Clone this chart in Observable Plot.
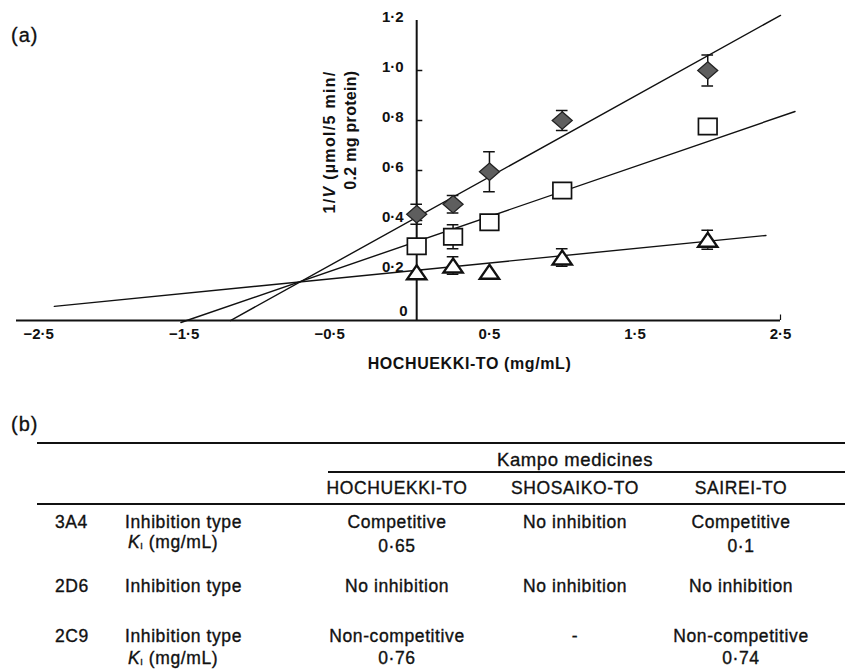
<!DOCTYPE html>
<html><head><meta charset="utf-8">
<script src="https://cdn.jsdelivr.net/npm/d3@7"></script>
<script src="https://cdn.jsdelivr.net/npm/@observablehq/plot@0.6"></script>
<style>
body{margin:0;background:#fff;}
#wrap{position:relative;width:845px;height:671px;overflow:hidden;font-family:"Liberation Sans",Arial,Helvetica,sans-serif;color:#111;}
#wrap svg{position:absolute;left:0;top:0;}
.t{position:absolute;white-space:nowrap;line-height:1;font-size:17.5px;letter-spacing:0.6px;-webkit-text-stroke:0.35px #111;}
.c{transform:translate(-50%,-50%);}
.l{transform:translate(0,-50%);}
.rule{position:absolute;background:#111;}
.panel{position:absolute;font-size:20px;letter-spacing:1px;line-height:1;transform:translate(0,-50%);-webkit-text-stroke:0.3px #111;}
</style></head><body><div id="wrap"></div>
<script>
// ---------- data (panel a) ----------
const concentrations = [0, 0.25, 0.5, 1, 2];
const seriesNames = ["diamond", "square", "triangle"];
const diamondValues = [0.425, 0.465, 0.595, 0.80, 1.00];
const diamondErrors = [0.04, 0.035, 0.08, 0.04, 0.062];
const squareValues = [0.297, 0.335, 0.393, 0.52, 0.776];
const squareErrors = [0, 0.048, 0, 0, 0];
const triangleValues = [0.193, 0.22, 0.195, 0.252, 0.323];
const triangleErrors = [0, 0.035, 0, 0.035, 0.038];
const lineSlopes = [0.323, 0.200, 0.058];
const lineIntercepts = [0.413, 0.316, 0.201];
const lineStarts = [-1.28, -1.62, -2.49];
const lineEnds = [2.5, 2.6, 2.4];
const xTicks = [-2.5, -1.5, -0.5, 0.5, 1.5, 2.5];
const yTicks = [0, 0.2, 0.4, 0.6, 0.8, 1.0, 1.2];
const xTitle = "HOCHUEKKI-TO (mg/mL)";
const yTitle = "1/V (µmol/5 min/\n0.2 mg protein)";

// ---------- data (panel b) ----------
const groupTitle = "Kampo medicines";
const medicines = ["HOCHUEKKI-TO", "SHOSAIKO-TO", "SAIREI-TO"];
const enzymes = ["3A4", "2D6", "2C9"];
const hasKi = [true, false, true];
const inhibitionTypes = [
  ["Competitive", "No inhibition", "Competitive"],
  ["No inhibition", "No inhibition", "No inhibition"],
  ["Non-competitive", "-", "Non-competitive"]
];
const kiValues = [
  ["0·65", "", "0·1"],
  ["", "", ""],
  ["0·76", "", "0·74"]
];

// ---------- build tables ----------
const valueSets = [diamondValues, squareValues, triangleValues];
const errorSets = [diamondErrors, squareErrors, triangleErrors];
const points = seriesNames.flatMap((s, i) =>
  concentrations.map((c, j) => ({series: s, x: c, y: valueSets[i][j], err: errorSets[i][j]})));
const errPoints = points.filter(d => d.err > 0);
const linePts = seriesNames.flatMap((s, i) => [lineStarts[i], lineEnds[i]].map(x => ({series: s, x, y: lineIntercepts[i] + lineSlopes[i] * x})));

const fmt = d => d === 0 ? "0" : (d < 0 ? "\u2212" : "") + Math.abs(d).toFixed(1).replace(".", "·");

const mk = (fw, fh, shape) => ({draw(ctx, size) {
  const r = Math.sqrt(size / Math.PI), w = r * fw, h = r * fh;
  if (shape === "d") { ctx.moveTo(0, -h); ctx.lineTo(w, 0); ctx.lineTo(0, h); ctx.lineTo(-w, 0); ctx.closePath(); }
  else if (shape === "s") { ctx.moveTo(-w, -h); ctx.lineTo(w, -h); ctx.lineTo(w, h); ctx.lineTo(-w, h); ctx.closePath(); }
  else { ctx.moveTo(0, -h); ctx.lineTo(w, h); ctx.lineTo(-w, h); ctx.closePath(); }
}});
const diamondSym = mk(1.0, 0.87, "d");
const squareSym = mk(0.93, 0.82, "s");
const triangleSym = mk(0.97, 0.7, "t");
const capHalf = 0.04;
const tickFont = {fontWeight: "bold", fontSize: 15};

const chart = Plot.plot({
  width: 845, height: 390,
  marginLeft: 16, marginRight: 65, marginTop: 20, marginBottom: 70,
  x: {domain: [-2.75, 2.5], axis: null},
  y: {domain: [0, 1.2], axis: null},
  style: {fontFamily: "Liberation Sans, Arial, sans-serif", fontSize: "14px", color: "#111", background: "transparent", overflow: "visible"},
  marks: [
    Plot.ruleY([0], {stroke: "#111", strokeWidth: 2}),
    Plot.ruleX([0], {y1: 0, y2: yTicks[yTicks.length - 1], stroke: "#111", strokeWidth: 2}),
    Plot.ruleY(yTicks.filter(d => d > 0 && d < 1.2), {y: d => d, x1: 0, x2: 0.042, stroke: "#111", strokeWidth: 1.5}),
    Plot.ruleX(xTicks.slice(-1), {x: d => d, y1: 0, y2: 0.022, stroke: "#111", strokeWidth: 1.2}),
    Plot.text(yTicks.filter(d => d > 0), {x: 0, y: d => d, text: fmt, textAnchor: "end", dx: -13, dy: -3, ...tickFont}),
    Plot.text(yTicks.filter(d => d === 0), {x: 0, y: d => d, text: fmt, textAnchor: "end", dx: -9, dy: -9, ...tickFont}),
    Plot.text(xTicks.filter(d => d < 0), {x: d => d, y: 0, text: fmt, textAnchor: "end", dx: 1, dy: 8, lineAnchor: "top", ...tickFont}),
    Plot.text(xTicks.filter(d => d > 0), {x: d => d, y: 0, text: fmt, textAnchor: "middle", dy: 8, lineAnchor: "top", ...tickFont}),
    Plot.text([xTitle], {frameAnchor: "bottom", text: d => d, dx: 71, dy: 48, fontSize: 16, fontWeight: "bold"}),
    Plot.text([yTitle], {frameAnchor: "top-left", text: d => d, dx: 304, dy: 50, rotate: -90, textAnchor: "end", fontSize: 16, fontWeight: "bold", lineHeight: 1.3}),
    Plot.line(linePts, {x: "x", y: "y", z: "series", stroke: "#111", strokeWidth: 1.4}),
    Plot.ruleX(errPoints, {x: "x", y1: d => d.y - d.err, y2: d => d.y + d.err, stroke: "#111", strokeWidth: 1.5}),
    Plot.ruleY(errPoints, {y: d => d.y + d.err, x1: d => d.x - capHalf, x2: d => d.x + capHalf, stroke: "#111", strokeWidth: 1.5}),
    Plot.ruleY(errPoints, {y: d => d.y - d.err, x1: d => d.x - capHalf, x2: d => d.x + capHalf, stroke: "#111", strokeWidth: 1.5}),
    Plot.dot(points.filter(d => d.series === "diamond"), {x: "x", y: "y", r: 10, symbol: diamondSym, fill: "#5e5e5e", stroke: "#222", strokeWidth: 1.3}),
    Plot.dot(points.filter(d => d.series === "square"), {x: "x", y: "y", r: 10, symbol: squareSym, fill: "white", stroke: "#111", strokeWidth: 1.7}),
    Plot.dot(points.filter(d => d.series === "triangle"), {x: "x", y: "y", r: 10, symbol: triangleSym, fill: "white", stroke: "#111", strokeWidth: 2.3})
  ]
});

const wrap = document.getElementById("wrap");
wrap.appendChild(chart);

// letter spacing on titles, italic V in the y title
d3.select(chart).selectAll("text").each(function() {
  const t = this.textContent;
  if (t.startsWith("HOCHUEKKI")) d3.select(this).style("letter-spacing", "0.6px");
});
d3.select(chart).selectAll("tspan").each(function() {
  const t = this.textContent;
  if (t.startsWith("1/V")) {
    this.textContent = "";
    const s = d3.select(this).style("letter-spacing", "1.3px");
    s.append("tspan").text("1/");
    s.append("tspan").attr("font-style", "italic").text("V");
    s.append("tspan").text(t.slice(3));
  } else if (t.startsWith("0.2 mg")) {
    d3.select(this).style("letter-spacing", "0.3px");
  }
});

// ---------- panel labels & table ----------
function addText(txt, x, y, cls, html) {
  const el = document.createElement("div");
  el.className = "t " + cls;
  el.style.left = x + "px"; el.style.top = y + "px";
  if (html) el.innerHTML = txt; else el.textContent = txt;
  wrap.appendChild(el);
  return el;
}
function addRule(x1, x2, y, h) {
  const el = document.createElement("div");
  el.className = "rule";
  el.style.left = x1 + "px"; el.style.width = (x2 - x1) + "px";
  el.style.top = (y - h / 2) + "px"; el.style.height = h + "px";
  wrap.appendChild(el);
}
const pa = document.createElement("div"); pa.className = "panel"; pa.textContent = "(a)";
pa.style.left = "11px"; pa.style.top = "35px"; wrap.appendChild(pa);
const pb = document.createElement("div"); pb.className = "panel"; pb.textContent = "(b)";
pb.style.left = "11px"; pb.style.top = "424px"; wrap.appendChild(pb);

const colX = [397, 575, 741];
const rowY = [523, 587, 637];
const kiLabelOffset = [20, 0, 22];
const kiValueOffset = [24, 0, 22];

addRule(37, 845, 443, 1.8);
addRule(328, 845, 472, 1.2);
addRule(37, 845, 504, 1.8);
addText(groupTitle, 575, 460, "c").style.fontSize = "18.5px";
medicines.forEach((m, i) => addText(m, colX[i], 489, "c"));
enzymes.forEach((e, r) => {
  addText(e, 55, rowY[r], "l");
  addText("Inhibition type", 125, rowY[r], "l");
  if (hasKi[r]) addText("<i>K</i><sub style='font-size:9px;vertical-align:-1px'>I</sub> (mg/mL)", 128, rowY[r] + kiLabelOffset[r], "l", true);
  inhibitionTypes[r].forEach((v, c) => addText(v, colX[c], rowY[r], "c"));
  kiValues[r].forEach((v, c) => { if (v) addText(v, colX[c], rowY[r] + kiValueOffset[r], "c"); });
});
</script></body></html>
